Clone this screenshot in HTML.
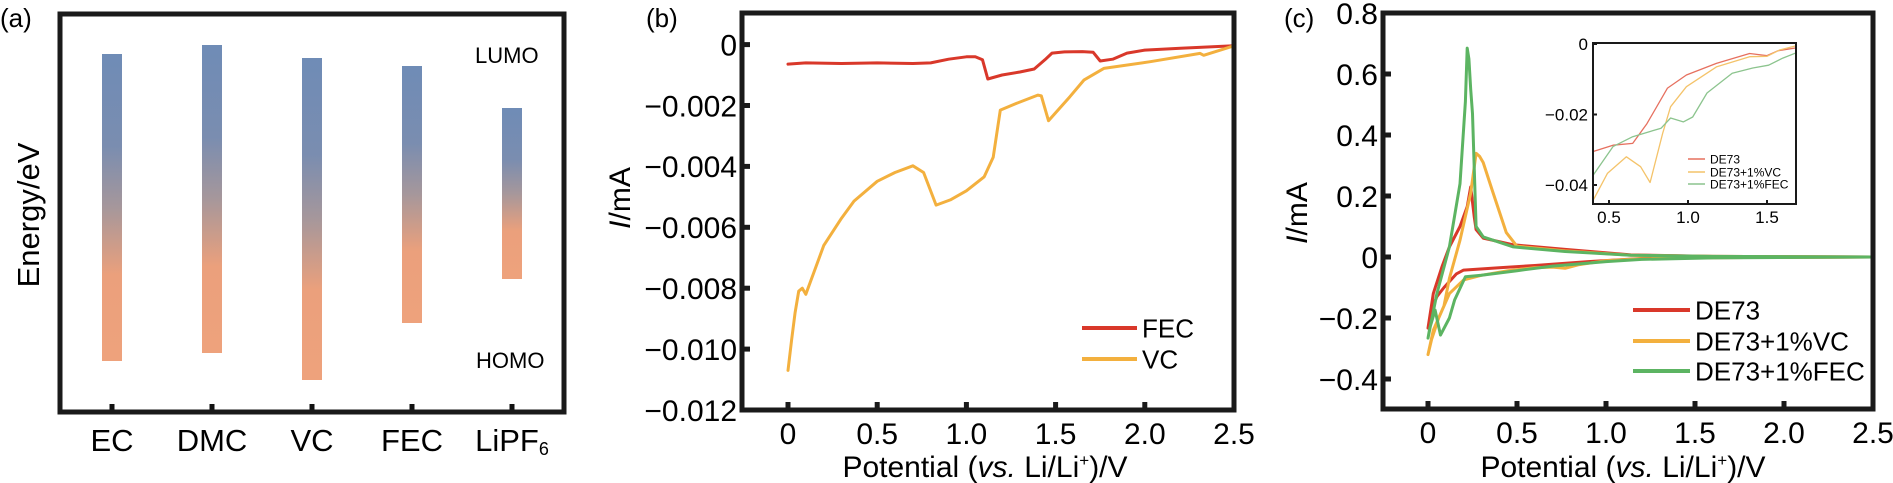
<!DOCTYPE html>
<html><head><meta charset="utf-8"><style>
html,body{margin:0;padding:0;background:#fff;}
svg{display:block;font-family:"Liberation Sans",Arial,sans-serif;}
</style></head><body>
<svg id="fig" width="1893" height="483" viewBox="0 0 1893 483" xmlns="http://www.w3.org/2000/svg">
<defs>
<linearGradient id="bandgrad" x1="0" y1="0" x2="0" y2="1">
<stop offset="0" stop-color="#6f8cb6"/><stop offset="0.3" stop-color="#7a8db0"/>
<stop offset="0.5" stop-color="#a6979b"/><stop offset="0.72" stop-color="#eba07c"/>
<stop offset="1" stop-color="#eea27c"/></linearGradient>
</defs>
<g id="pa"></g>
<g id="pb"></g>
<g id="pc"></g>
</svg>
<script>
// Panel a data
const aCats=["EC","DMC","VC","FEC","LiPF6"];
const aLumo=[54,45,58,66,108];
const aHomo=[361,353,380,323,279];
// Panel b data
const bTicksY=[0,-0.002,-0.004,-0.006,-0.008,-0.010,-0.012];
const bTickLabelsY=["0","−0.002","−0.004","−0.006","−0.008","−0.010","−0.012"];
const xTicks=[0,0.5,1.0,1.5,2.0,2.5];
const xTickLabels=["0","0.5","1.0","1.5","2.0","2.5"];
const fecV=[0,0.1,0.3,0.5,0.7,0.8,0.9,1.0,1.05,1.09,1.12,1.2,1.3,1.38,1.44,1.48,1.55,1.65,1.71,1.75,1.82,1.9,2.0,2.2,2.5];
const fecI=[-0.00064,-0.0006,-0.00062,-0.0006,-0.00062,-0.0006,-0.00048,-0.0004,-0.0004,-0.0005,-0.00113,-0.001,-0.0009,-0.0008,-0.0005,-0.00028,-0.00024,-0.00023,-0.00025,-0.00054,-0.00048,-0.00028,-0.00018,-0.00012,-0.00004];
const vcV=[0,0.02,0.04,0.06,0.08,0.1,0.15,0.2,0.3,0.37,0.5,0.6,0.7,0.76,0.83,0.91,1.0,1.1,1.15,1.19,1.28,1.4,1.42,1.46,1.58,1.66,1.77,2.03,2.31,2.33,2.5];
const vcI=[-0.0107,-0.0097,-0.0088,-0.0081,-0.008,-0.0082,-0.0074,-0.0066,-0.0057,-0.00514,-0.00449,-0.0042,-0.00398,-0.0042,-0.00527,-0.0051,-0.0048,-0.00434,-0.0037,-0.00215,-0.00193,-0.00166,-0.00168,-0.0025,-0.00171,-0.00116,-0.00078,-0.00056,-0.00029,-0.00035,-0.00004];
// Panel c data
const cTicksY=[0.8,0.6,0.4,0.2,0,-0.2,-0.4];
const cTickLabelsY=["0.8","0.6","0.4","0.2","0","−0.2","−0.4"];
const de73V=[2.5,1.6,1.2,0.9,0.6,0.4,0.2,0.16,0.09,0.05,0.02,0,0.03,0.08,0.12,0.18,0.22,0.24,0.26,0.27,0.31,0.48,0.77,1.14,1.6,2.5];
const de73I=[0,-0.002,-0.005,-0.015,-0.028,-0.035,-0.043,-0.055,-0.1,-0.13,-0.17,-0.233,-0.12,-0.03,0.033,0.1,0.165,0.23,0.13,0.09,0.062,0.04,0.025,0.007,0.002,0];
const vcAddV=[2.5,1.6,1.2,1.0,0.85,0.77,0.7,0.6,0.45,0.3,0.2,0.12,0.06,0.02,0,0.03,0.09,0.12,0.18,0.24,0.27,0.29,0.31,0.36,0.44,0.5,0.77,1.14,1.6,2.5];
const vcAddI=[0,-0.002,-0.006,-0.012,-0.025,-0.037,-0.033,-0.035,-0.045,-0.06,-0.075,-0.12,-0.2,-0.27,-0.32,-0.24,-0.16,-0.07,0.055,0.21,0.34,0.33,0.31,0.22,0.08,0.035,0.02,0.006,0.002,0];
const fecAddV=[2.5,1.6,1.2,1.0,0.7,0.5,0.3,0.21,0.15,0.12,0.07,0.04,0.01,0,0.05,0.12,0.18,0.21,0.22,0.23,0.24,0.25,0.27,0.31,0.48,0.77,1.14,1.6,2.5];
const fecAddI=[0,-0.003,-0.008,-0.015,-0.03,-0.045,-0.06,-0.065,-0.14,-0.2,-0.256,-0.174,-0.233,-0.266,-0.12,0.033,0.24,0.51,0.685,0.65,0.55,0.47,0.1,0.066,0.033,0.018,0.006,0.002,0];
// Inset data
const insTicksX=[0.5,1.0,1.5];
const insTickLabelsX=["0.5","1.0","1.5"];
const insTicksY=[0,-0.02,-0.04];
const insTickLabelsY=["0","−0.02","−0.04"];
const insRedV=[0.4,0.525,0.65,0.74,0.87,0.99,1.18,1.39,1.5,1.57,1.685];
const insRedI=[-0.0305,-0.0287,-0.0282,-0.0226,-0.0125,-0.0088,-0.0055,-0.0027,-0.0033,-0.0019,-0.0011];
const insOrV=[0.4,0.49,0.61,0.7,0.76,0.84,0.89,0.99,1.18,1.39,1.5,1.58,1.685];
const insOrI=[-0.0443,-0.0367,-0.032,-0.0348,-0.0393,-0.0253,-0.0178,-0.0121,-0.0065,-0.0036,-0.0035,-0.0017,-0.0005];
const insGrV=[0.4,0.525,0.65,0.83,0.89,0.97,1.03,1.12,1.28,1.41,1.51,1.6,1.685];
const insGrI=[-0.0372,-0.0291,-0.0263,-0.0239,-0.021,-0.0221,-0.0207,-0.0139,-0.0083,-0.0068,-0.006,-0.004,-0.0025];

const NS="http://www.w3.org/2000/svg";
function mk(parent,tag,attrs,text){const e=document.createElementNS(NS,tag);for(const k in attrs)e.setAttribute(k,attrs[k]);if(text!==undefined)e.textContent=text;parent.appendChild(e);return e;}
function lin(d0,d1,r0,r1){return v=>r0+(v-d0)/(d1-d0)*(r1-r0);}
function pathOf(xs,ys,sx,sy){return xs.map((v,i)=>(i?"L":"M")+sx(v).toFixed(1)+","+sy(ys[i]).toFixed(1)).join("");}

// ---------- Panel a ----------
const pa=document.getElementById('pa');
let t=mk(pa,'text',{x:0,y:27,'font-size':26});
t.textContent='(a)';
const aX=lin(0,4,112,512);
const aY=lin(0,1,0,1);
aCats.forEach((c,i)=>{
  const r=mk(pa,'rect',{x:aX(i)-10,y:aY(aLumo[i]),width:20,height:aY(aHomo[i])-aY(aLumo[i]),fill:'url(#bandgrad)'});
  
  const tk=mk(pa,'line',{x1:aX(i),x2:aX(i),y1:412,y2:404,stroke:'#111','stroke-width':5});
  
});
let fr=mk(pa,'rect',{x:60,y:14,width:504,height:398,fill:'none',stroke:'#1a1a1a','stroke-width':5});

aCats.forEach((c,i)=>{
  const tx=mk(pa,'text',{x:aX(i),y:451,'font-size':31,'text-anchor':'middle'});
  
  if(c==="LiPF6"){tx.textContent='LiPF';mk(tx,'tspan',{'font-size':18,dy:4},'6');}else tx.textContent=c;
});
t=mk(pa,'text',{x:475,y:63,'font-size':22},'LUMO');
t=mk(pa,'text',{x:476,y:368,'font-size':22},'HOMO');
t=mk(pa,'text',{x:0,y:0,'font-size':31,'text-anchor':'middle',transform:'translate(39,215) rotate(-90)'},'Energy/eV');


// ---------- generic axes ----------
function axes(g,L,R,T,B,sx,sy,xt,xl,yt,yl,fs,tick,lw){
  const f=mk(g,'rect',{x:L,y:T,width:R-L,height:B-T,fill:'none',stroke:'#1a1a1a','stroke-width':lw});
  
  xt.forEach((v,i)=>{
    const l=mk(g,'line',{x1:sx(v),x2:sx(v),y1:B,y2:B-tick,stroke:'#1a1a1a','stroke-width':lw});
    
    const tx=mk(g,'text',{x:sx(v),y:B+fs*1.13,'font-size':fs,'text-anchor':'middle'},xl[i]);
    
  });
  yt.forEach((v,i)=>{
    const l=mk(g,'line',{x1:L,x2:L+tick,y1:sy(v),y2:sy(v),stroke:'#1a1a1a','stroke-width':lw});
    
    const tx=mk(g,'text',{x:L-5,y:sy(v)+fs*0.36,'font-size':fs,'text-anchor':'end'},yl[i]);
    
  });
}
function series(g,xs,ys,sx,sy,col,w,name){
  const p=mk(g,'path',{d:pathOf(xs,ys,sx,sy),fill:'none',stroke:col,'stroke-width':w,'stroke-linejoin':'round','stroke-linecap':'round'});
  
}
function xtitle(g,cx,y){
  const tx=mk(g,'text',{x:cx,y:y,'font-size':30,'text-anchor':'middle'});
  
  tx.appendChild(document.createTextNode('Potential ('));
  mk(tx,'tspan',{'font-style':'italic'},'vs.');
  tx.appendChild(document.createTextNode(' Li/Li'));
  mk(tx,'tspan',{'font-size':17,dy:-11},'+');
  mk(tx,'tspan',{dy:11},')/V');
}
function ytitle(g,x,y){
  const tx=mk(g,'text',{x:0,y:0,'font-size':30,'text-anchor':'middle',transform:`translate(${x},${y}) rotate(-90)`});
  
  mk(tx,'tspan',{'font-style':'italic'},'I');tx.appendChild(document.createTextNode('/mA'));
}
function legend(g,x1,x2,y,col,label,fs,w){
  const l=mk(g,'line',{x1:x1,x2:x2,y1:y,y2:y,stroke:col,'stroke-width':w});
  
  const tx=mk(g,'text',{x:x2+5,y:y+fs*0.36,'font-size':fs},label);
  
}

// ---------- Panel b ----------
const pb=document.getElementById('pb');
t=mk(pb,'text',{x:646,y:27,'font-size':26},'(b)');
const bx=lin(0,2.5,788,1234), by=lin(0,-0.012,44.6,410);
series(pb,fecV,fecI,bx,by,'#d9382a',3,'series-fec');
series(pb,vcV,vcI,bx,by,'#f3b03e',3,'series-vc');
axes(pb,742,1234,13,410,bx,by,xTicks,xTickLabels,bTicksY,bTickLabelsY,30,8,5);
xtitle(pb,985,477);ytitle(pb,630,198);
legend(pb,1082,1137,328,'#d9382a','FEC',26,4);
legend(pb,1082,1137,359,'#f3b03e','VC',26,4);

// ---------- Panel c ----------
const pc=document.getElementById('pc');
t=mk(pc,'text',{x:1284,y:27,'font-size':26},'(c)');
const cx=lin(0,2.5,1428,1873), cy=lin(0,0.2,257,196);
series(pc,de73V,de73I,cx,cy,'#d9382a',3,'series-de73');
series(pc,vcAddV,vcAddI,cx,cy,'#f3b03e',3,'series-de73-vc');
series(pc,fecAddV,fecAddI,cx,cy,'#5cb462',3,'series-de73-fec');
axes(pc,1383,1873,13,409,cx,cy,xTicks,xTickLabels,cTicksY,cTickLabelsY,30,8,5);
xtitle(pc,1623,477);ytitle(pc,1307,213);
legend(pc,1633,1690,310,'#d9382a','DE73',26,4);
legend(pc,1633,1690,341,'#f3b03e','DE73+1%VC',26,4);
legend(pc,1633,1690,371,'#5cb462','DE73+1%FEC',26,4);

// inset
const ins=mk(pc,'g',{});
const ix=lin(0.5,1.5,1609,1767), iy=lin(0,-0.02,44,114.5);
mk(ins,'rect',{x:1593,y:43,width:203,height:161,fill:'#fff'});
const clip=mk(ins,'g',{});
series(clip,insRedV,insRedI,ix,iy,'#e6705f',1.3,'inset-series-de73');
series(clip,insOrV,insOrI,ix,iy,'#f4c36a',1.3,'inset-series-de73-vc');
series(clip,insGrV,insGrI,ix,iy,'#8cc48e',1.3,'inset-series-de73-fec');
axes(ins,1593,1796,43,204,ix,iy,insTicksX,insTickLabelsX,insTicksY,insTickLabelsY,17,4,2);
legend(ins,1688,1705,159,'#e6705f','DE73',12,1.5);
legend(ins,1688,1705,172,'#f4c36a','DE73+1%VC',12,1.5);
legend(ins,1688,1705,184,'#8cc48e','DE73+1%FEC',12,1.5);
</script>
</body></html>
